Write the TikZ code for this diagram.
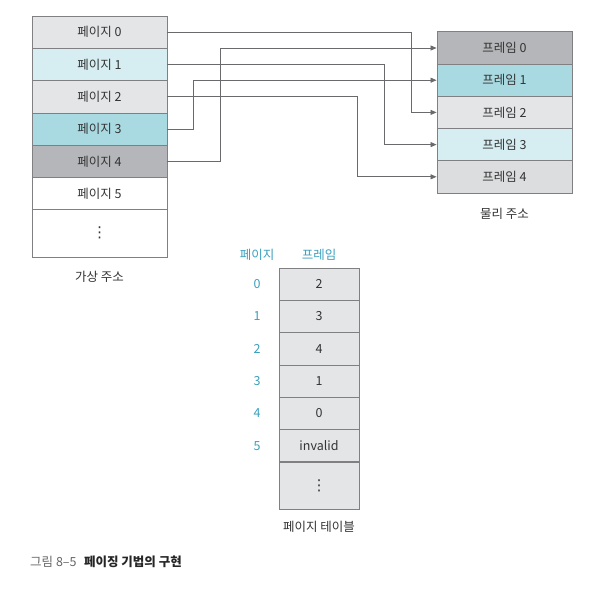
\documentclass[tikz,border=0pt]{standalone}
\usepackage{fontspec}
\setmainfont{Noto Sans CJK KR}
\newfontfamily\dejavu{DejaVu Sans}
\usetikzlibrary{arrows.meta}
\definecolor{lgray}{HTML}{E4E5E7}
\definecolor{lgray2}{HTML}{DCDDDF}
\definecolor{lblue}{HTML}{D6EDF1}
\definecolor{teal2}{HTML}{A9DAE2}
\definecolor{dgray}{HTML}{B5B6B9}
\definecolor{bord}{HTML}{808082}
\definecolor{linec}{HTML}{6A6A6C}
\definecolor{hdr}{HTML}{3AA0BE}
\definecolor{txt}{HTML}{333333}
\newcommand{\vd}{{\dejavu\fontsize{15}{16}\selectfont ⋮}}
\tikzset{
  cell/.style={draw=bord, line width=0.9pt, minimum width=135pt, minimum height=32.3pt, inner sep=0pt, font=\fontsize{12.5}{14}\selectfont, text=txt},
  tcell/.style={cell, minimum width=80pt},
  lbl/.style={font=\fontsize{12.5}{14}\selectfont, text=txt, inner sep=0pt},
  hlbl/.style={font=\fontsize{12.5}{14}\selectfont, text=hdr, inner sep=0pt},
  conn/.style={draw=linec, line width=0.8pt, -{Triangle[length=6pt,width=5pt]}},
}
\begin{document}
\begin{tikzpicture}[x=1pt,y=-1pt]
\useasboundingbox[fill=white] (0,0) rectangle (608,592);
% virtual address
\node[cell, fill=lgray] (p0) at (99.5,32.2) {페이지 0};
\node[cell, fill=lblue] (p1) at (99.5,64.5) {페이지 1};
\node[cell, fill=lgray] (p2) at (99.5,96.8) {페이지 2};
\node[cell, fill=teal2] (p3) at (99.5,129.1) {페이지 3};
\node[cell, fill=dgray] (p4) at (99.5,161.4) {페이지 4};
\node[cell, fill=white] (p5) at (99.5,193.7) {페이지 5};
\node[cell, fill=white, minimum height=48pt] (pd) at (99.5,233) {\vd};
\node[lbl] (vlabel) at (99.5,277) {가상 주소};
% physical
\node[cell, fill=dgray] (f0) at (504.5,48) {프레임 0};
\node[cell, fill=teal2] (f1) at (504.5,80.2) {프레임 1};
\node[cell, fill=lgray] (f2) at (504.5,112.4) {프레임 2};
\node[cell, fill=lblue] (f3) at (504.5,144.6) {프레임 3};
\node[cell, fill=lgray2] (f4) at (504.5,176.8) {프레임 4};
\node[lbl] (plabel) at (504.5,214) {물리 주소};
% connectors
\coordinate (x0) at (411,0);
\coordinate (x1) at (384,0);
\coordinate (x2) at (357,0);
\coordinate (x3) at (193,0);
\coordinate (x4) at (220,0);
\draw[conn] (p0.east) -- (p0.east -| x0) |- (f2.west);
\draw[conn] (p1.east) -- (p1.east -| x1) |- (f3.west);
\draw[conn] (p2.east) -- (p2.east -| x2) |- (f4.west);
\draw[conn] (p3.east) -- (p3.east -| x3) |- (f1.west);
\draw[conn] (p4.east) -- (p4.east -| x4) |- (f0.west);
% page table
\node[hlbl] (hp) at (257,255) {페이지};
\node[hlbl] (hf) at (319,255) {프레임};
\node[tcell, fill=lgray] (t0) at (319,284.2) {2};
\node[tcell, fill=lgray] (t1) at (319,316.5) {3};
\node[tcell, fill=lgray] (t2) at (319,348.8) {4};
\node[tcell, fill=lgray] (t3) at (319,381.1) {1};
\node[tcell, fill=lgray] (t4) at (319,413.4) {0};
\node[tcell, fill=lgray] (t5) at (319,445.7) {invalid};
\node[tcell, fill=lgray, minimum height=47pt] (td) at (319,485.5) {\vd};
\node[hlbl] (n0) at (257,284.2) {0};
\node[hlbl] (n1) at (257,316.5) {1};
\node[hlbl] (n2) at (257,348.8) {2};
\node[hlbl] (n3) at (257,381.1) {3};
\node[hlbl] (n4) at (257,413.4) {4};
\node[hlbl] (n5) at (257,445.7) {5};
\node[lbl] (tlabel) at (319,527) {페이지 테이블};
% caption
\node[anchor=west, inner sep=0pt, font=\fontsize{12.5}{14}\selectfont] (cap) at (30,562) {\textcolor{black!60}{그림 8–5}\hspace{0.6em}\textcolor{black!85}{\bfseries 페이징 기법의 구현}};
\end{tikzpicture}
\end{document}
